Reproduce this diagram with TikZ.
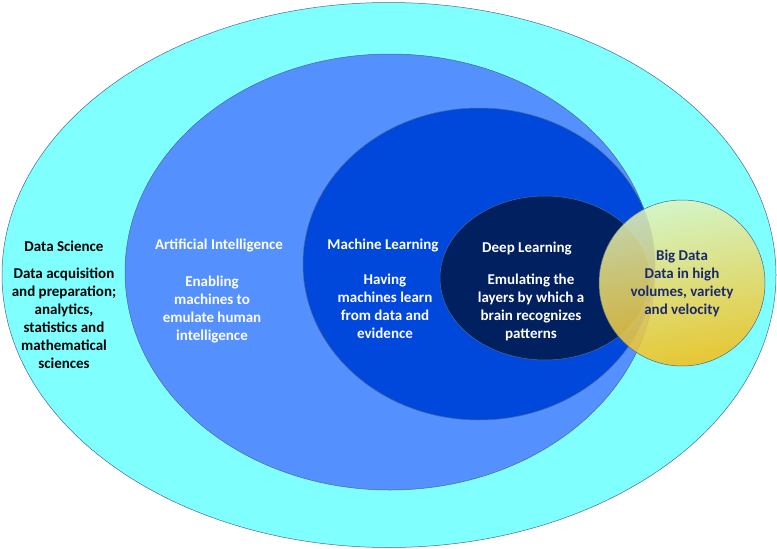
\documentclass[tikz,border=0pt]{standalone}
\usepackage{fontspec}
\setmainfont{Carlito}
\usetikzlibrary{shapes.geometric}
\definecolor{dscyan}{HTML}{80FFFF}
\definecolor{aiblue}{HTML}{5590FF}
\definecolor{mlblue}{HTML}{0048DC}
\definecolor{dlnavy}{HTML}{00205F}
\definecolor{bdlight}{HTML}{E2F4BE}
\definecolor{bdmid}{HTML}{F2DC70}
\definecolor{bdgold}{HTML}{F8BE12}
\definecolor{bdtext}{HTML}{1B2A6B}
\definecolor{rimgray}{HTML}{4B6A8F}
\tikzset{
  field/.style={ellipse,draw=rimgray,line width=0.5pt,inner sep=0pt},
  title/.style={font=\bfseries\fontsize{15}{18}\selectfont,align=center},
  body/.style={font=\bfseries\fontsize{15}{18}\selectfont,align=center}
}

\begin{document}
\begin{tikzpicture}[x=1pt,y=-1pt]
  \useasboundingbox (0,0) rectangle (777,549);
  % nested fields
  \node[field,fill=dscyan,minimum width=774pt,minimum height=545pt] (ds) at (389,275) {};
  \node[field,fill=aiblue,minimum width=530pt,minimum height=436pt] (ai) at (390,272) {};
  \node[field,fill=mlblue,minimum width=352pt,minimum height=312pt] (ml) at (479,264) {};
  \node[field,fill=dlnavy,minimum width=210pt,minimum height=164pt] (dl) at (545,278) {};
  \node[field,top color=bdlight,middle color=bdmid,bottom color=bdgold,shading angle=10,
    fill opacity=0.86,minimum width=166pt,minimum height=166pt] (bd) at (682,283) {};
  % labels
  \node[title] (dstitle) at (64,246) {Data Science};
  \node[body] (dsbody) at (64,318) {Data acquisition\\and preparation;\\analytics,\\statistics and\\mathematical\\sciences};
  \node[title,white] (aititle) at (219,245) {Artificial Intelligence};
  \node[body,white] (aibody) at (212,310) {Enabling\\machines to\\emulate human\\intelligence};
  \node[title,white] (mltitle) at (383,246) {Machine Learning};
  \node[body,white] (mlbody) at (385,306) {Having\\machines learn\\from data and\\evidence};
  \node[title,white] (dltitle) at (527,249) {Deep Learning};
  \node[body,white] (dlbody) at (531,307) {Emulating the\\layers by which a\\brain recognizes\\patterns};
  \node[body,bdtext] (bdtext) at (682,283) {Big Data\\Data in high\\volumes, variety\\and velocity};
\end{tikzpicture}
\end{document}
